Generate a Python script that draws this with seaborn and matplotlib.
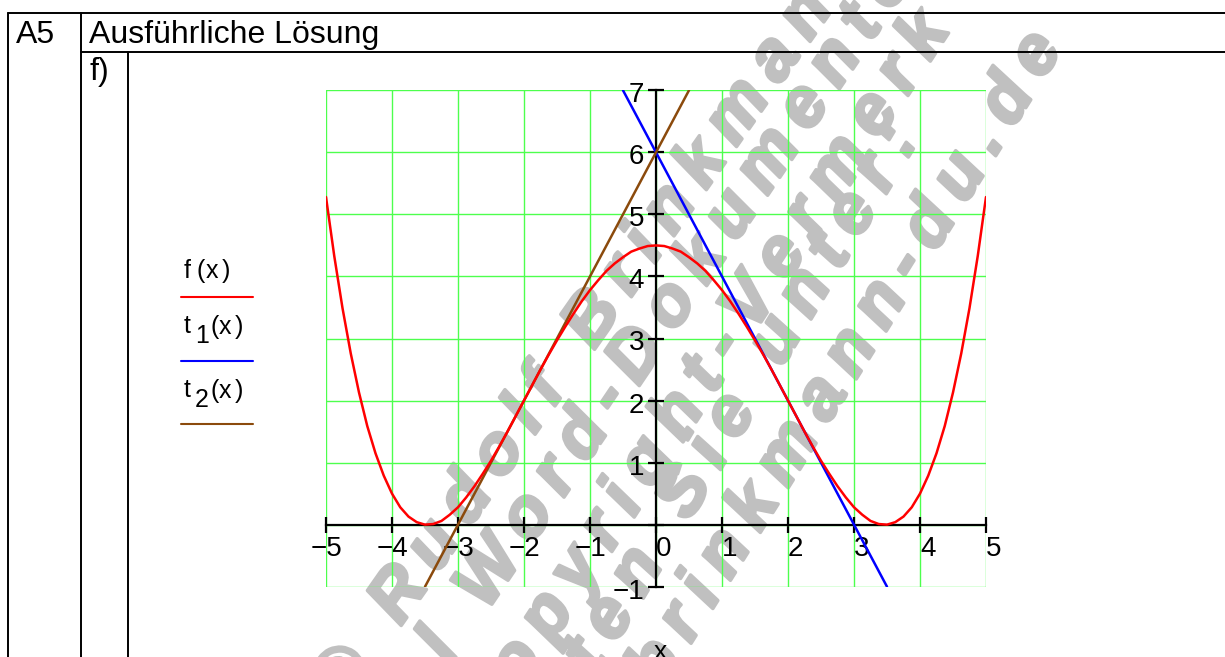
import numpy as np
import matplotlib
matplotlib.use('Agg')
import matplotlib.pyplot as plt
import matplotlib.transforms as mtransforms
import matplotlib.patheffects as pe
from matplotlib.lines import Line2D
from matplotlib.font_manager import FontProperties
from matplotlib.textpath import TextToPath
import seaborn as sns

sns.set_theme(style='white')
plt.rcParams['font.family'] = ['Liberation Sans', 'DejaVu Sans']
plt.rcParams['text.color'] = 'black'

# values
x_vals = [-5.0, -4.875, -4.75, -4.625, -4.5, -4.375, -4.25, -4.125, -4.0, -3.875,
          -3.75, -3.625, -3.5, -3.375, -3.25, -3.125, -3.0, -2.875, -2.75, -2.625,
          -2.5, -2.375, -2.25, -2.125, -2.0, -1.875, -1.75, -1.625, -1.5, -1.375,
          -1.25, -1.125, -1.0, -0.875, -0.75, -0.625, -0.5, -0.375, -0.25, -0.125,
          0.0,
          0.125, 0.25, 0.375, 0.5, 0.625, 0.75, 0.875, 1.0, 1.125, 1.25,
          1.375, 1.5, 1.625, 1.75, 1.875, 2.0, 2.125, 2.25, 2.375, 2.5,
          2.625, 2.75, 2.875, 3.0, 3.125, 3.25, 3.375, 3.5, 3.625, 3.75,
          3.875, 4.0, 4.125, 4.25, 4.375, 4.5, 4.625, 4.75, 4.875, 5.0]
f_vals = [5.28, 4.33, 3.49, 2.76, 2.13, 1.59, 1.15, 0.79, 0.50, 0.28,
          0.13, 0.04, 0.00, 0.01, 0.06, 0.16, 0.28, 0.44, 0.62, 0.82,
          1.03, 1.26, 1.50, 1.75, 2.00, 2.25, 2.50, 2.74, 2.97, 3.19,
          3.40, 3.60, 3.78, 3.94, 4.09, 4.21, 4.31, 4.40, 4.45, 4.49,
          4.50,
          4.49, 4.45, 4.40, 4.31, 4.21, 4.09, 3.94, 3.78, 3.60, 3.40,
          3.19, 2.97, 2.74, 2.50, 2.25, 2.00, 1.75, 1.50, 1.26, 1.03,
          0.82, 0.62, 0.44, 0.28, 0.16, 0.06, 0.01, 0.00, 0.04, 0.13,
          0.28, 0.50, 0.79, 1.15, 1.59, 2.13, 2.76, 3.49, 4.33, 5.28]
t1_x = [-0.5, 3.5]
t1_y = [7.0, -1.0]
t2_x = [-3.5, 0.5]
t2_y = [-1.0, 7.0]

x_ticks = [-5, -4, -3, -2, -1, 0, 1, 2, 3, 4, 5]
x_tick_labels = ['\u22125', '\u22124', '\u22123', '\u22122', '\u22121', '0', '1', '2', '3', '4', '5']
y_ticks = [-1, 1, 2, 3, 4, 5, 6, 7]
y_tick_labels = ['\u22121', '1', '2', '3', '4', '5', '6', '7']

wm_texts = ['\u00a9 Rudolf Brinkmann', 'Original Word-Dokumente', 'ohne Copyright-Vermerk',
            'erhalten Sie unter:', 'www.brinkmann-du.de']

W, H = 1225, 657
fig = plt.figure(figsize=(W / 100, H / 100), dpi=100)


def fx(x):
    return x / W


def fy(y):
    return 1 - y / H


# plot area
ax = fig.add_axes([fx(326), fy(586.7), 660 / W, (586.7 - 90.3) / H])
ax.patch.set_alpha(0)

sns.lineplot(x=x_vals, y=f_vals, color='#ff0000', lw=1.8, ax=ax, zorder=5)
sns.lineplot(x=t1_x, y=t1_y, color='#0000ff', lw=1.8, ax=ax, zorder=4)
sns.lineplot(x=t2_x, y=t2_y, color='#8b4a0c', lw=1.8, ax=ax, zorder=4)

ax.set_xlim(-5, 5)
ax.set_ylim(-1, 7)
ax.set_xticks(x_ticks)
ax.set_yticks([-1, 0] + y_ticks[1:])
ax.grid(True, color='#4dff4d', lw=1.0)
for g in ax.xaxis.get_gridlines() + ax.yaxis.get_gridlines():
    g.set_clip_on(False)
ax.set_axisbelow(True)

for s in ['top', 'right']:
    ax.spines[s].set_visible(False)
ax.spines['left'].set_position(('data', 0))
ax.spines['bottom'].set_position(('data', 0))
for s in ['left', 'bottom']:
    ax.spines[s].set_color('black')
    ax.spines[s].set_linewidth(1.6)
ax.tick_params(bottom=True, left=True, direction='inout', length=12, width=1.6,
               color='black', labelbottom=False, labelleft=False)
ax.set_xlabel('')
ax.set_ylabel('')


def off(dx, dy):
    return mtransforms.offset_copy(ax.transData, fig=fig, x=dx, y=dy, units='dots')


for v, lab in zip(x_ticks, x_tick_labels):
    dx = -15 if v < 0 else 0
    ax.text(v, 0, lab, transform=off(dx, -31), fontsize=20, ha='left', va='baseline')
for v, lab in zip(y_ticks, y_tick_labels):
    ax.text(0, v, lab, transform=off(-12, -12), fontsize=20, ha='right', va='baseline')

fig.text(fx(660), fy(659), 'x', fontsize=19, ha='center', va='baseline')

# table frame
def line(xs, ys):
    fig.add_artist(Line2D([fx(v) for v in xs], [fy(v) for v in ys], color='black', lw=1.4))


line([8, W], [13, 13])
line([81, W], [52, 52])
line([8, 8], [13, H])
line([81, 81], [13, H])
line([128, 128], [52, H])

fig.text(fx(16), fy(43), 'A5', fontsize=23, va='baseline')
fig.text(fx(89), fy(43), 'Ausführliche Lösung', fontsize=23, va='baseline')
fig.text(fx(89), fy(80), 'f)', fontsize=23, va='baseline')

# legend in Mathcad style
def piece(x, y, s):
    fig.text(fx(x), fy(y), s, fontsize=18, va='baseline')


for x, s in [(184, 'f'), (196, '('), (206, 'x'), (222, ')')]:
    piece(x, 278, s)
piece(184, 333, 't')
piece(195, 343, '1')
for x, s in [(210, '('), (219, 'x'), (235, ')')]:
    piece(x, 334, s)
piece(184, 397, 't')
piece(195, 407, '2')
for x, s in [(210, '('), (219, 'x'), (235, ')')]:
    piece(x, 398, s)
for y, c in [(296.5, '#ff0000'), (360.5, '#0000ff'), (424, '#8b4a0c')]:
    fig.add_artist(Line2D([fx(181), fx(253)], [fy(y), fy(y)], color=c, lw=1.5))

# watermark, letter-spaced diagonal text behind the plot
wm_size = 50
wm_font = FontProperties(family='Liberation Sans', weight='bold', style='italic', size=wm_size)
em = wm_size * 100 / 72
ttp = TextToPath()
gap = 14
wm_layout = [(2, (395, 592), 55), (12, (578, 433), 56), (7, (543, 613), 57),
             (9, (680, 490), 59), (5, (677, 620), 58)]
for text, (ai, c, ang) in zip(wm_texts, wm_layout):
    th = np.deg2rad(ang)
    d = np.array([np.cos(th), -np.sin(th)])
    nrm = np.array([np.sin(th), np.cos(th)])
    pos = []
    acc = 0
    for ch in text:
        if ch == ' ':
            w = 0.278 * em
        else:
            w = ttp.get_text_width_height_descent(ch, wm_font, ismath=False)[0] * 100 / 72
        pos.append(acc + w / 2)
        acc += w + gap
    base = np.array(c) + 0.35 * em * nrm
    for ch, s in zip(text, pos):
        p = base + (s - pos[ai]) * d
        fig.text(fx(p[0]), fy(p[1]), ch, fontproperties=wm_font, color='#c0c0c0',
                 rotation=ang, rotation_mode='anchor', ha='center', va='baseline', zorder=-1,
                 path_effects=[pe.withStroke(linewidth=2.5, foreground='#c0c0c0')])

fig.savefig('out.png', dpi=100)
